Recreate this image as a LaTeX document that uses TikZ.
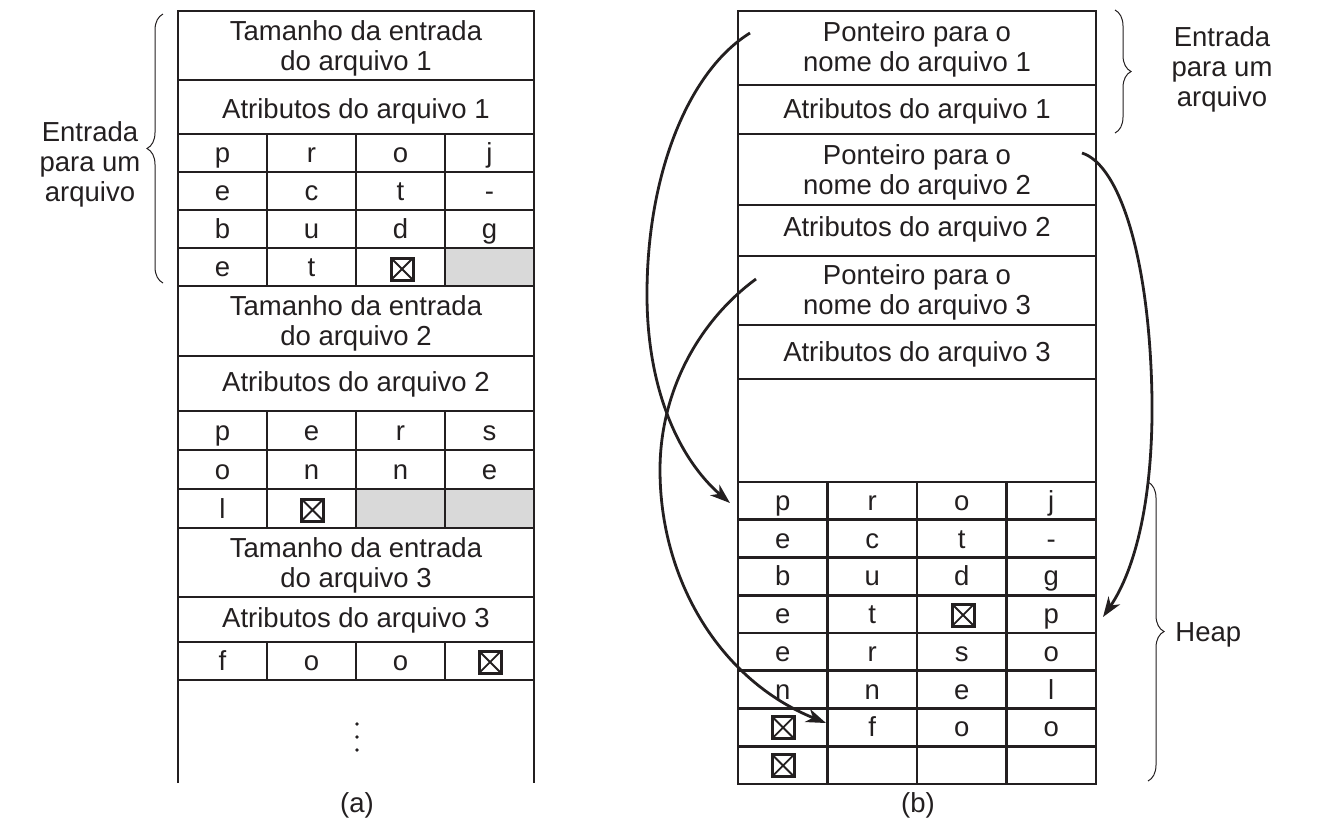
\documentclass[tikz,border=0pt]{standalone}
\usepackage{fontspec}
\setmainfont{Liberation Sans}
\usetikzlibrary{arrows.meta,decorations.pathreplacing}
\definecolor{tinta}{RGB}{35,31,32}
\definecolor{cinza}{RGB}{217,217,217}
\tikzset{
  grade/.style={draw=tinta,line width=1.35pt},
  texto/.style={text=tinta,font=\fontsize{13.75}{15}\selectfont,align=center,inner sep=0pt},
  letra/.style={text=tinta,font=\fontsize{13.75}{15}\selectfont,inner sep=0pt,text height=9.5pt,text depth=3pt,yshift=-1.5pt},
  nulo/.style={draw=tinta,line width=1.5pt,minimum size=11pt,inner sep=0pt,
    path picture={\draw[tinta,line width=0.9pt] (path picture bounding box.north west) -- (path picture bounding box.south east)
      (path picture bounding box.north east) -- (path picture bounding box.south west);}},
  chave/.style={draw=tinta,line width=0.5pt,decorate,decoration={brace,amplitude=8pt}},
  seta/.style={draw=tinta,line width=1.4pt,-{Stealth[length=10pt,width=7pt,inset=3pt]}},
}
\begin{document}
\begin{tikzpicture}[x=0.5pt,y=-0.5pt]
    \useasboundingbox (0,0) rectangle (1321,831);
    % (a)
    \fill[cinza] (445,248) rectangle (534,286);
    \fill[cinza] (356,489) rectangle (534,528);
    \draw[grade] (178,783) -- (178,11) -- (534,11) -- (534,783);
    \foreach \y in {80,134,172,210,248,286,356,411,450,489,528,597,642,680}
        \draw[grade] (178,\y) -- (534,\y);
    \foreach \x in {267,356,445}
        \draw[grade] (\x,134) -- (\x,286) (\x,411) -- (\x,528) (\x,642) -- (\x,680);
    \node[texto] (tam1) at (356,48) {Tamanho da entrada\\do arquivo 1};
    \node[texto] (atr1) at (356,111) {Atributos do arquivo 1};
    \foreach \k/\t in {1/p,2/r,3/o,4/j} \node[letra] (a1\k) at (133.5+89*\k,153) {\t};
    \foreach \k/\t in {1/e,2/c,3/t,4/-} \node[letra] (a2\k) at (133.5+89*\k,191) {\t};
    \foreach \k/\t in {1/b,2/u,3/d,4/g} \node[letra] (a3\k) at (133.5+89*\k,229) {\t};
    \foreach \k/\t in {1/e,2/t} \node[letra] (a4\k) at (133.5+89*\k,267) {\t};
    \node[nulo] (a43) at (402,269) {};
    \node[texto] (tam2) at (356,323) {Tamanho da entrada\\do arquivo 2};
    \node[texto] (atr2) at (356,384) {Atributos do arquivo 2};
    \foreach \k/\t in {1/p,2/e,3/r,4/s} \node[letra] (a5\k) at (133.5+89*\k,430.5) {\t};
    \foreach \k/\t in {1/o,2/n,3/n,4/e} \node[letra] (a6\k) at (133.5+89*\k,469.5) {\t};
    \node[letra] (a71) at (222.5,508.5) {l};
    \node[nulo] (a72) at (312.5,510) {};
    \node[texto] (tam3) at (356,565) {Tamanho da entrada\\do arquivo 3};
    \node[texto] (atr3) at (356,620) {Atributos do arquivo 3};
    \foreach \k/\t in {1/f,2/o,3/o} \node[letra] (a8\k) at (133.5+89*\k,661) {\t};
    \node[nulo] (a84) at (490,662) {};
    \fill[tinta] (357,724) circle (0.9pt) (357,737) circle (0.9pt) (357,750) circle (0.9pt);
    \draw[chave] (163,283) -- (163,14);
    \node[texto] (entA) at (90,164.5) {Entrada\\para um\\arquivo};
    \node[texto] (rotA) at (357,805) {(a)};
    % (b)
    \draw[grade] (738,11) rectangle (1096,784);
    \foreach \y in {85,134,205,256,325,379,482,519.75,557.5,595.25,633,670.75,708.5,746.25}
        \draw[grade] (738,\y) -- (1096,\y);
    \foreach \x in {827.5,917,1006.5}
        \draw[grade] (\x,482) -- (\x,784);
    \node[texto] (pont1) at (917,49.5) {Ponteiro para o\\nome do arquivo 1};
    \node[texto] (atrb1) at (917,111) {Atributos do arquivo 1};
    \node[texto] (pont2) at (917,172) {Ponteiro para o\\nome do arquivo 2};
    \node[texto] (atrb2) at (917,229.5) {Atributos do arquivo 2};
    \node[texto] (pont3) at (917,292) {Ponteiro para o\\nome do arquivo 3};
    \node[texto] (atrb3) at (917,354.5) {Atributos do arquivo 3};
    \foreach \k/\t in {1/p,2/r,3/o,4/j} \node[letra] (h1\k) at (693.25+89.5*\k,500.875) {\t};
    \foreach \k/\t in {1/e,2/c,3/t,4/-} \node[letra] (h2\k) at (693.25+89.5*\k,538.625) {\t};
    \foreach \k/\t in {1/b,2/u,3/d,4/g} \node[letra] (h3\k) at (693.25+89.5*\k,576.375) {\t};
    \foreach \k/\t in {1/e,2/t,4/p} \node[letra] (h4\k) at (693.25+89.5*\k,614.125) {\t};
    \node[nulo] (h43) at (963,615) {};
    \foreach \k/\t in {1/e,2/r,3/s,4/o} \node[letra] (h5\k) at (693.25+89.5*\k,651.875) {\t};
    \foreach \k/\t in {1/n,2/n,3/e,4/l} \node[letra] (h6\k) at (693.25+89.5*\k,689.625) {\t};
    \node[nulo] (h71) at (783,727.5) {};
    \foreach \k/\t in {2/f,3/o,4/o} \node[letra] (h7\k) at (693.25+89.5*\k,727.375) {\t};
    \node[nulo] (h81) at (783,765.5) {};
    \draw[chave] (1115,10) -- (1115,133);
    \node[texto] (entB) at (1222,69.5) {Entrada\\para um\\arquivo};
    \draw[chave] (1148,482) -- (1148,781);
    \node[texto,anchor=west] (heap) at (1175,635) {Heap};
    \node[texto] (rotB) at (918,805) {(b)};
    \coordinate (s1) at (750,33);
    \coordinate (f1) at (730,503);
    \coordinate (s2) at (1082,153);
    \coordinate (f2) at (1103,617);
    \coordinate (s3) at (756,279);
    \coordinate (f3) at (826,723);
    \draw[seta] (s1) .. controls (690,70) and (648,170) .. (647,290) .. controls (646,390) and (680,460) .. (f1);
    \draw[seta] (s2) .. controls (1120,165) and (1150,260) .. (1152,400) .. controls (1153,500) and (1135,570) .. (f2);
    \draw[seta] (s3) .. controls (700,320) and (660,390) .. (660,470) .. controls (660,580) and (720,680) .. (f3);
\end{tikzpicture}
\end{document}
